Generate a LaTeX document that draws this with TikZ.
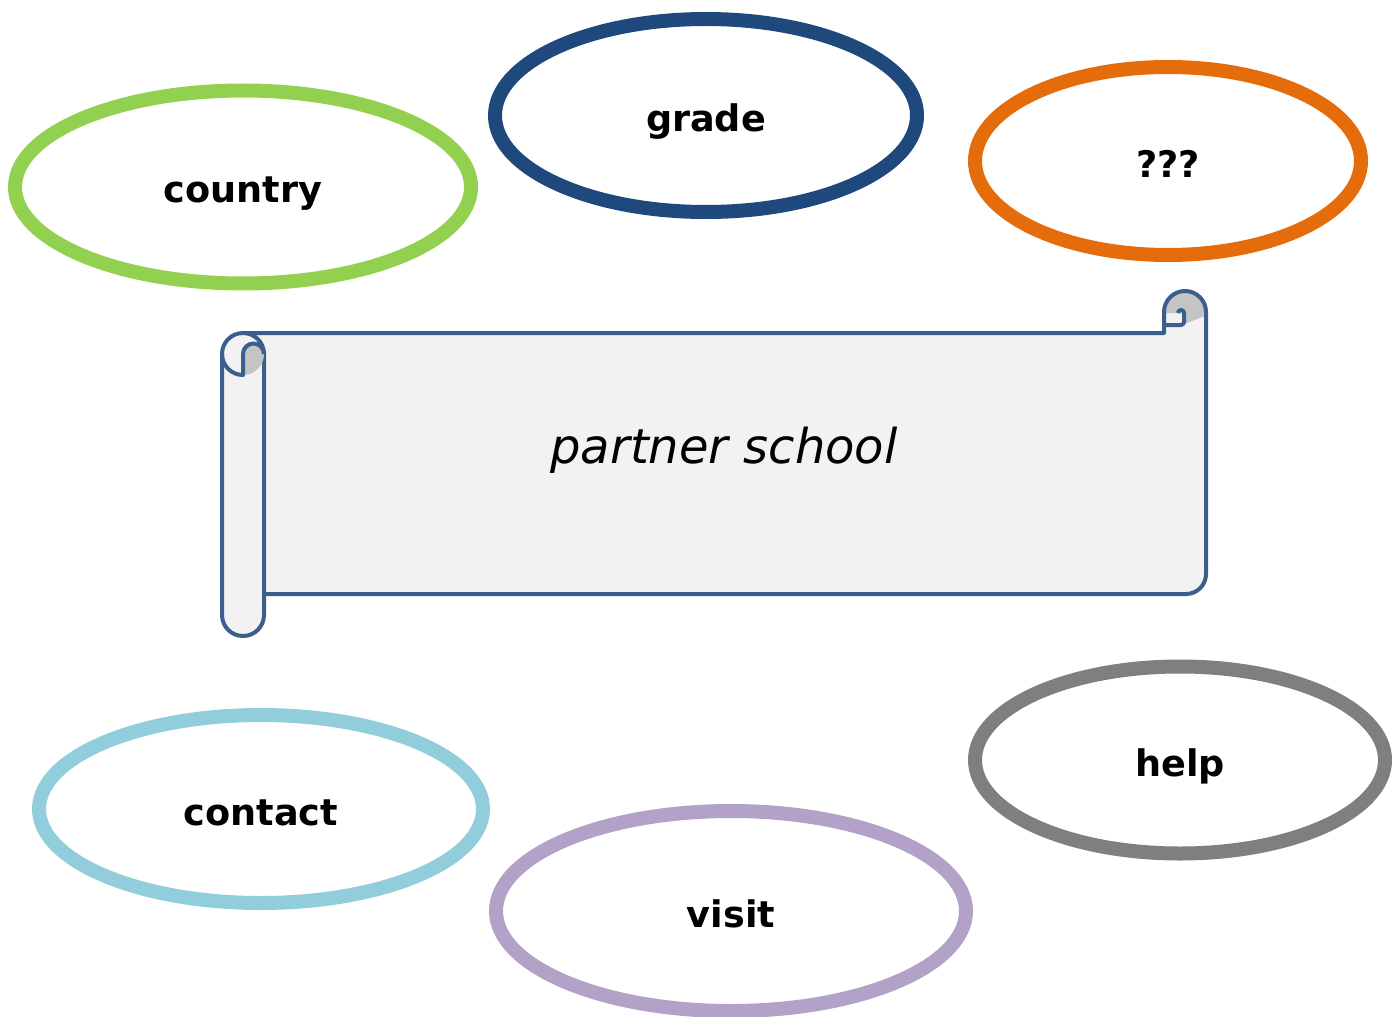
\documentclass[tikz,border=0pt]{standalone}
\usepackage{fontspec}
\setmainfont{DejaVu Sans}
\usetikzlibrary{shapes.geometric}
\definecolor{countrygreen}{HTML}{92D050}
\definecolor{gradeblue}{HTML}{1F497D}
\definecolor{unknownorange}{HTML}{E46C0A}
\definecolor{contactblue}{HTML}{92CDDC}
\definecolor{visitlilac}{HTML}{B2A2C7}
\definecolor{helpgray}{HTML}{7F7F7F}
\definecolor{scrollblue}{HTML}{3A5F8E}
\definecolor{scrollfill}{HTML}{F2F2F2}
\definecolor{curlgray}{HTML}{C4C4C4}
\begin{document}
\begin{tikzpicture}[x=0.5pt, y=-0.5pt, inner sep=0pt, outer sep=0pt, line join=round,
	bubble/.style={ellipse, draw=#1, line width=7, fill=white, text height=16pt, text depth=0pt, font=\fontsize{18.3}{22}\selectfont\bfseries},
	scrolledge/.style={draw=scrollblue, line width=2}]
\useasboundingbox (0,0) rectangle (1400,1016);
	\node[bubble=countrygreen, minimum width=228, minimum height=96.5] (country) at (243,187) {country};
	\node[bubble=gradeblue, minimum width=211, minimum height=96.5] (grade) at (706,115.5) {grade};
	\node[bubble=unknownorange, minimum width=193, minimum height=94] (unknown) at (1168,161) {???};
	\node[bubble=contactblue, minimum width=222, minimum height=94] (contact) at (261,809) {contact};
	\node[bubble=visitlilac, minimum width=235, minimum height=100] (visit) at (731,911) {visit};
	\node[bubble=helpgray, minimum width=205, minimum height=93.5] (help) at (1180,760) {help};
\begin{scope}
	\fill[scrollfill] (243,333) -- (1164,333) -- (1164,312) arc[start angle=180, end angle=360, radius=21] -- (1206,574) arc[start angle=0, end angle=90, radius=20] -- (264,594) -- cycle;
	\fill[curlgray] (1164,312) arc[start angle=180, end angle=370, radius=21] -- (1184,324) -- (1184,313) arc[start angle=0, end angle=-180, radius=3] -- (1164,313) -- cycle;
	\draw[scrolledge] (243,333) -- (1164,333) -- (1164,312) arc[start angle=180, end angle=360, radius=21] -- (1206,574) arc[start angle=0, end angle=90, radius=20] -- (264,594);
	\draw[scrolledge] (1164,325) -- (1181,325) arc[start angle=90, end angle=0, radius=3] -- (1184,313) arc[start angle=0, end angle=-180, radius=3];
	\path[scrolledge, fill=scrollfill] (264,354) -- (264,615) arc[start angle=0, end angle=180, radius=21] -- (222,354) arc[start angle=180, end angle=360, radius=21] -- cycle;
	\fill[curlgray] (243,375) -- (243,354) arc[start angle=180, end angle=360, radius=10.5] arc[start angle=0, end angle=90, radius=21] -- cycle;
	\draw[scrolledge] (222,354) arc[start angle=180, end angle=90, radius=21] -- (243,354) arc[start angle=180, end angle=360, radius=10.5];
	\node[anchor=base, font=\fontsize{24}{29}\selectfont\itshape] (school) at (724,463) {partner school};
\end{scope}
\end{tikzpicture}
\end{document}
